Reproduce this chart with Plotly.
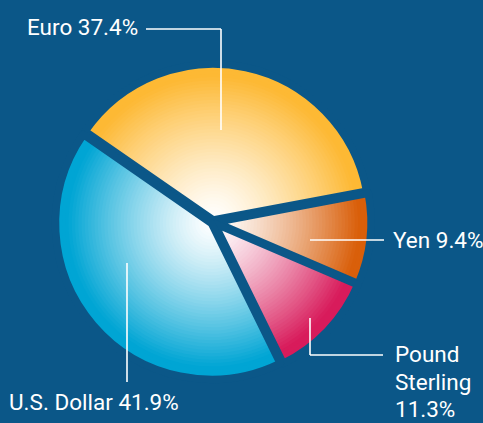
import plotly.graph_objects as go

# ---- data ----
currencies = ["Euro", "Yen", "Pound Sterling", "U.S. Dollar"]
shares = [37.4, 9.4, 11.3, 41.9]
edge_colors = ["#FDB934", "#D95F0A", "#D81B5B", "#00A5D4"]

# ---- style / layout ----
W, H = 483, 423
BG = "#0B5788"
CX, CY = 213, 222          # pie centre in pixels
R_OUT = 156.0              # outer radius (px) incl. half stroke
PULL_PX = 2.0              # slice explode in px
STROKE = 7.5
ROT = -55.3
N_LAYERS = 48
FONT = "Roboto, Liberation Sans Narrow, DejaVu Sans Condensed, sans-serif"
FSIZE = 22.5


def hex2rgb(h):
    h = h.lstrip("#")
    return tuple(int(h[i:i + 2], 16) for i in (0, 2, 4))


def mix(c, f):
    r, g, b = hex2rgb(c)
    return "rgb(%d,%d,%d)" % (round(255 + (r - 255) * f),
                              round(255 + (g - 255) * f),
                              round(255 + (b - 255) * f))


def domain_for(r):
    half = r + PULL_PX
    return dict(x=[(CX - half) / W, (CX + half) / W],
                y=[(H - CY - half) / H, (H - CY + half) / H])


fig = go.Figure()

# radial gradient built from stacked pies of decreasing radius
for k in range(N_LAYERS):
    t = 1.0 - k / N_LAYERS
    r = R_OUT * t
    f = min(1.0, t / 0.93) ** 1.3
    fig.add_trace(go.Pie(
        labels=currencies, values=shares, sort=False, direction="clockwise",
        rotation=ROT, pull=[min(1.0, PULL_PX / r)] * len(shares),
        marker=dict(colors=[mix(c, f) for c in edge_colors], line=dict(width=0)),
        textinfo="none", hoverinfo="skip", showlegend=False,
        domain=domain_for(r)))

# separating strokes on top
fig.add_trace(go.Pie(
    labels=currencies, values=shares, sort=False, direction="clockwise",
    rotation=ROT, pull=[PULL_PX / R_OUT] * len(shares),
    marker=dict(colors=["rgba(0,0,0,0)"] * len(shares), line=dict(color=BG, width=STROKE)),
    textinfo="none", hoverinfo="skip", showlegend=False,
    domain=domain_for(R_OUT)))


def px(x):
    return x / W


def py(y):
    return 1 - y / H


def lbl(text, x, y):
    fig.add_annotation(text=text, x=px(x), y=py(y), xref="paper", yref="paper",
                       xanchor="left", yanchor="middle", showarrow=False,
                       font=dict(family=FONT, size=FSIZE, color="white"))


def seg(x0, y0, x1, y1):
    fig.add_shape(type="line", xref="paper", yref="paper",
                  x0=px(x0), y0=py(y0), x1=px(x1), y1=py(y1),
                  line=dict(color="white", width=1.6))


lbl(f"{currencies[0]} {shares[0]}%", 25, 27)
seg(146, 29, 221, 29)
seg(221, 29, 221, 130)

lbl(f"{currencies[1]} {shares[1]}%", 391, 240)
seg(310, 240, 384, 240)

pound_words = currencies[2].split(" ")
lbl(pound_words[0], 393, 354)
lbl(pound_words[1], 393, 382)
lbl(f"{shares[2]}%", 393, 409)
seg(310, 318, 310, 355)
seg(310, 355, 383, 355)

lbl(f"{currencies[3]} {shares[3]}%", 7, 402)
seg(127, 263, 127, 382)

fig.update_layout(width=W, height=H, margin=dict(l=0, r=0, t=0, b=0),
                  paper_bgcolor=BG, plot_bgcolor=BG, showlegend=False)

fig.write_html("out.html", config={"displayModeBar": False},
               post_script="document.body.style.margin='0';document.body.style.background='" + BG + "';")
